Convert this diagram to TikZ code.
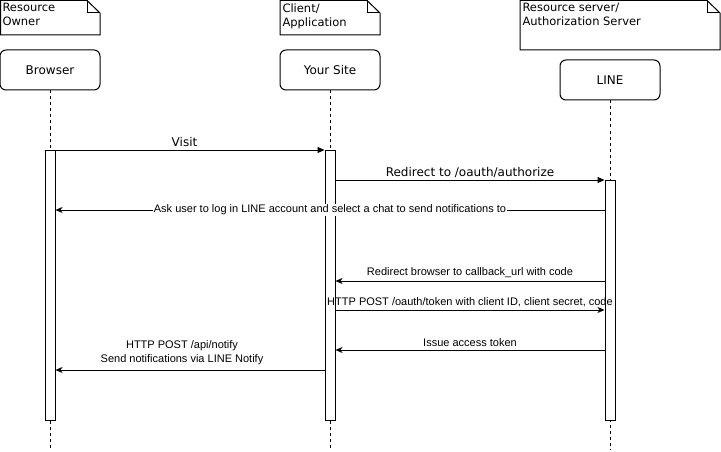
\documentclass[tikz,border=0pt]{standalone}
\usepackage{fontspec}
\setmainfont{Liberation Sans}
\newfontfamily\headfont{DejaVu Sans}
\usetikzlibrary{arrows.meta}

\tikzset{
  lifehead/.style={draw, rounded corners=6pt, minimum width=100pt, minimum height=40pt, inner sep=0pt, font=\headfont\fontsize{12}{14}\selectfont},
  notetext/.style={anchor=north west, align=left, inner sep=0pt, font=\headfont\fontsize{11.5}{14}\selectfont},
  lifeline/.style={dash pattern=on 3pt off 3pt},
  actbar/.style={draw, fill=white, minimum width=10pt, inner sep=0pt},
  msgblock/.style={-{Triangle[length=7pt,width=6pt]}},
  msgclassic/.style={-{Stealth[length=7pt,width=6pt,inset=2pt]}},
  msglabel/.style={font=\fontsize{11}{14}\selectfont, inner sep=1pt},
  biglabel/.style={font=\headfont\fontsize{12}{14}\selectfont, inner sep=1pt}
}

\begin{document}
\begin{tikzpicture}[x=1pt, y=-1pt, line width=1pt]
        \useasboundingbox (0,0) rectangle (721,452);
        % draw the notes
        \draw (0.5,0.5) -- (87,0.5) -- (100,13) -- (100,35) -- (0.5,35) -- cycle;
        \draw (87,0.5) -- (87,13) -- (100,13);
        \node[notetext] (ownernote) at (2,3) {Resource\\Owner};
        \draw (280,0.5) -- (367,0.5) -- (380,13) -- (380,35) -- (280,35) -- cycle;
        \draw (367,0.5) -- (367,13) -- (380,13);
        \node[notetext] (clientnote) at (282,3) {Client/\\Application};
        \draw (520,0.5) -- (707,0.5) -- (720,13) -- (720,50) -- (520,50) -- cycle;
        \draw (707,0.5) -- (707,13) -- (720,13);
        \node[notetext] (servernote) at (522,3) {Resource server/\\Authorization Server};
        % draw the lifelines
        \node[lifehead] (browser) at (50,70) {Browser};
        \node[lifehead] (site) at (330,70) {Your Site};
        \node[lifehead] (line) at (610,80) {LINE};
        \coordinate (bottom) at (0,450);
        \draw[lifeline] (browser.south) -- (browser.south |- bottom);
        \draw[lifeline] (site.south) -- (site.south |- bottom);
        \draw[lifeline] (line.south) -- (line.south |- bottom);
        \node[actbar, minimum height=270pt] (browserbar) at (50,285) {};
        \node[actbar, minimum height=270pt] (sitebar) at (330,285) {};
        \node[actbar, minimum height=240pt] (linebar) at (610,300) {};
        % draw the messages
        \coordinate (m1) at (0,150);
        \coordinate (m2) at (0,180);
        \coordinate (m3) at (0,210);
        \coordinate (m4) at (0,281);
        \coordinate (m5) at (0,310);
        \coordinate (m6) at (0,350);
        \coordinate (m7) at (0,370);
        \draw[msgblock] (browserbar.west |- m1) -- node[above, biglabel, yshift=2pt] {Visit} (sitebar.west |- m1);
        \draw[msgblock] (sitebar.east |- m2) -- node[above, biglabel, yshift=1pt] {Redirect to /oauth/authorize} (linebar.west |- m2);
        \draw[msgclassic] (linebar.west |- m3) -- node[msglabel, fill=white] {Ask user to log in LINE account and select a chat to send notifications to} (browserbar.east |- m3);
        \draw[msgclassic] (linebar.west |- m4) -- node[above, msglabel, yshift=2pt] {Redirect browser to callback\_url with code} (sitebar.east |- m4);
        \draw[msgclassic] (sitebar.east |- m5) -- node[above, msglabel, yshift=2pt] {HTTP POST /oauth/token with client ID, client secret, code} (linebar.west |- m5);
        \draw[msgclassic] (linebar.west |- m6) -- node[above, msglabel, yshift=2pt] {Issue access token} (sitebar.east |- m6);
        \draw[msgclassic] (sitebar.west |- m7) -- node[above, msglabel, align=center, yshift=4pt, xshift=-8pt] {HTTP POST /api/notify\\Send notifications via LINE Notify} (browserbar.east |- m7);
    \end{tikzpicture}
\end{document}
